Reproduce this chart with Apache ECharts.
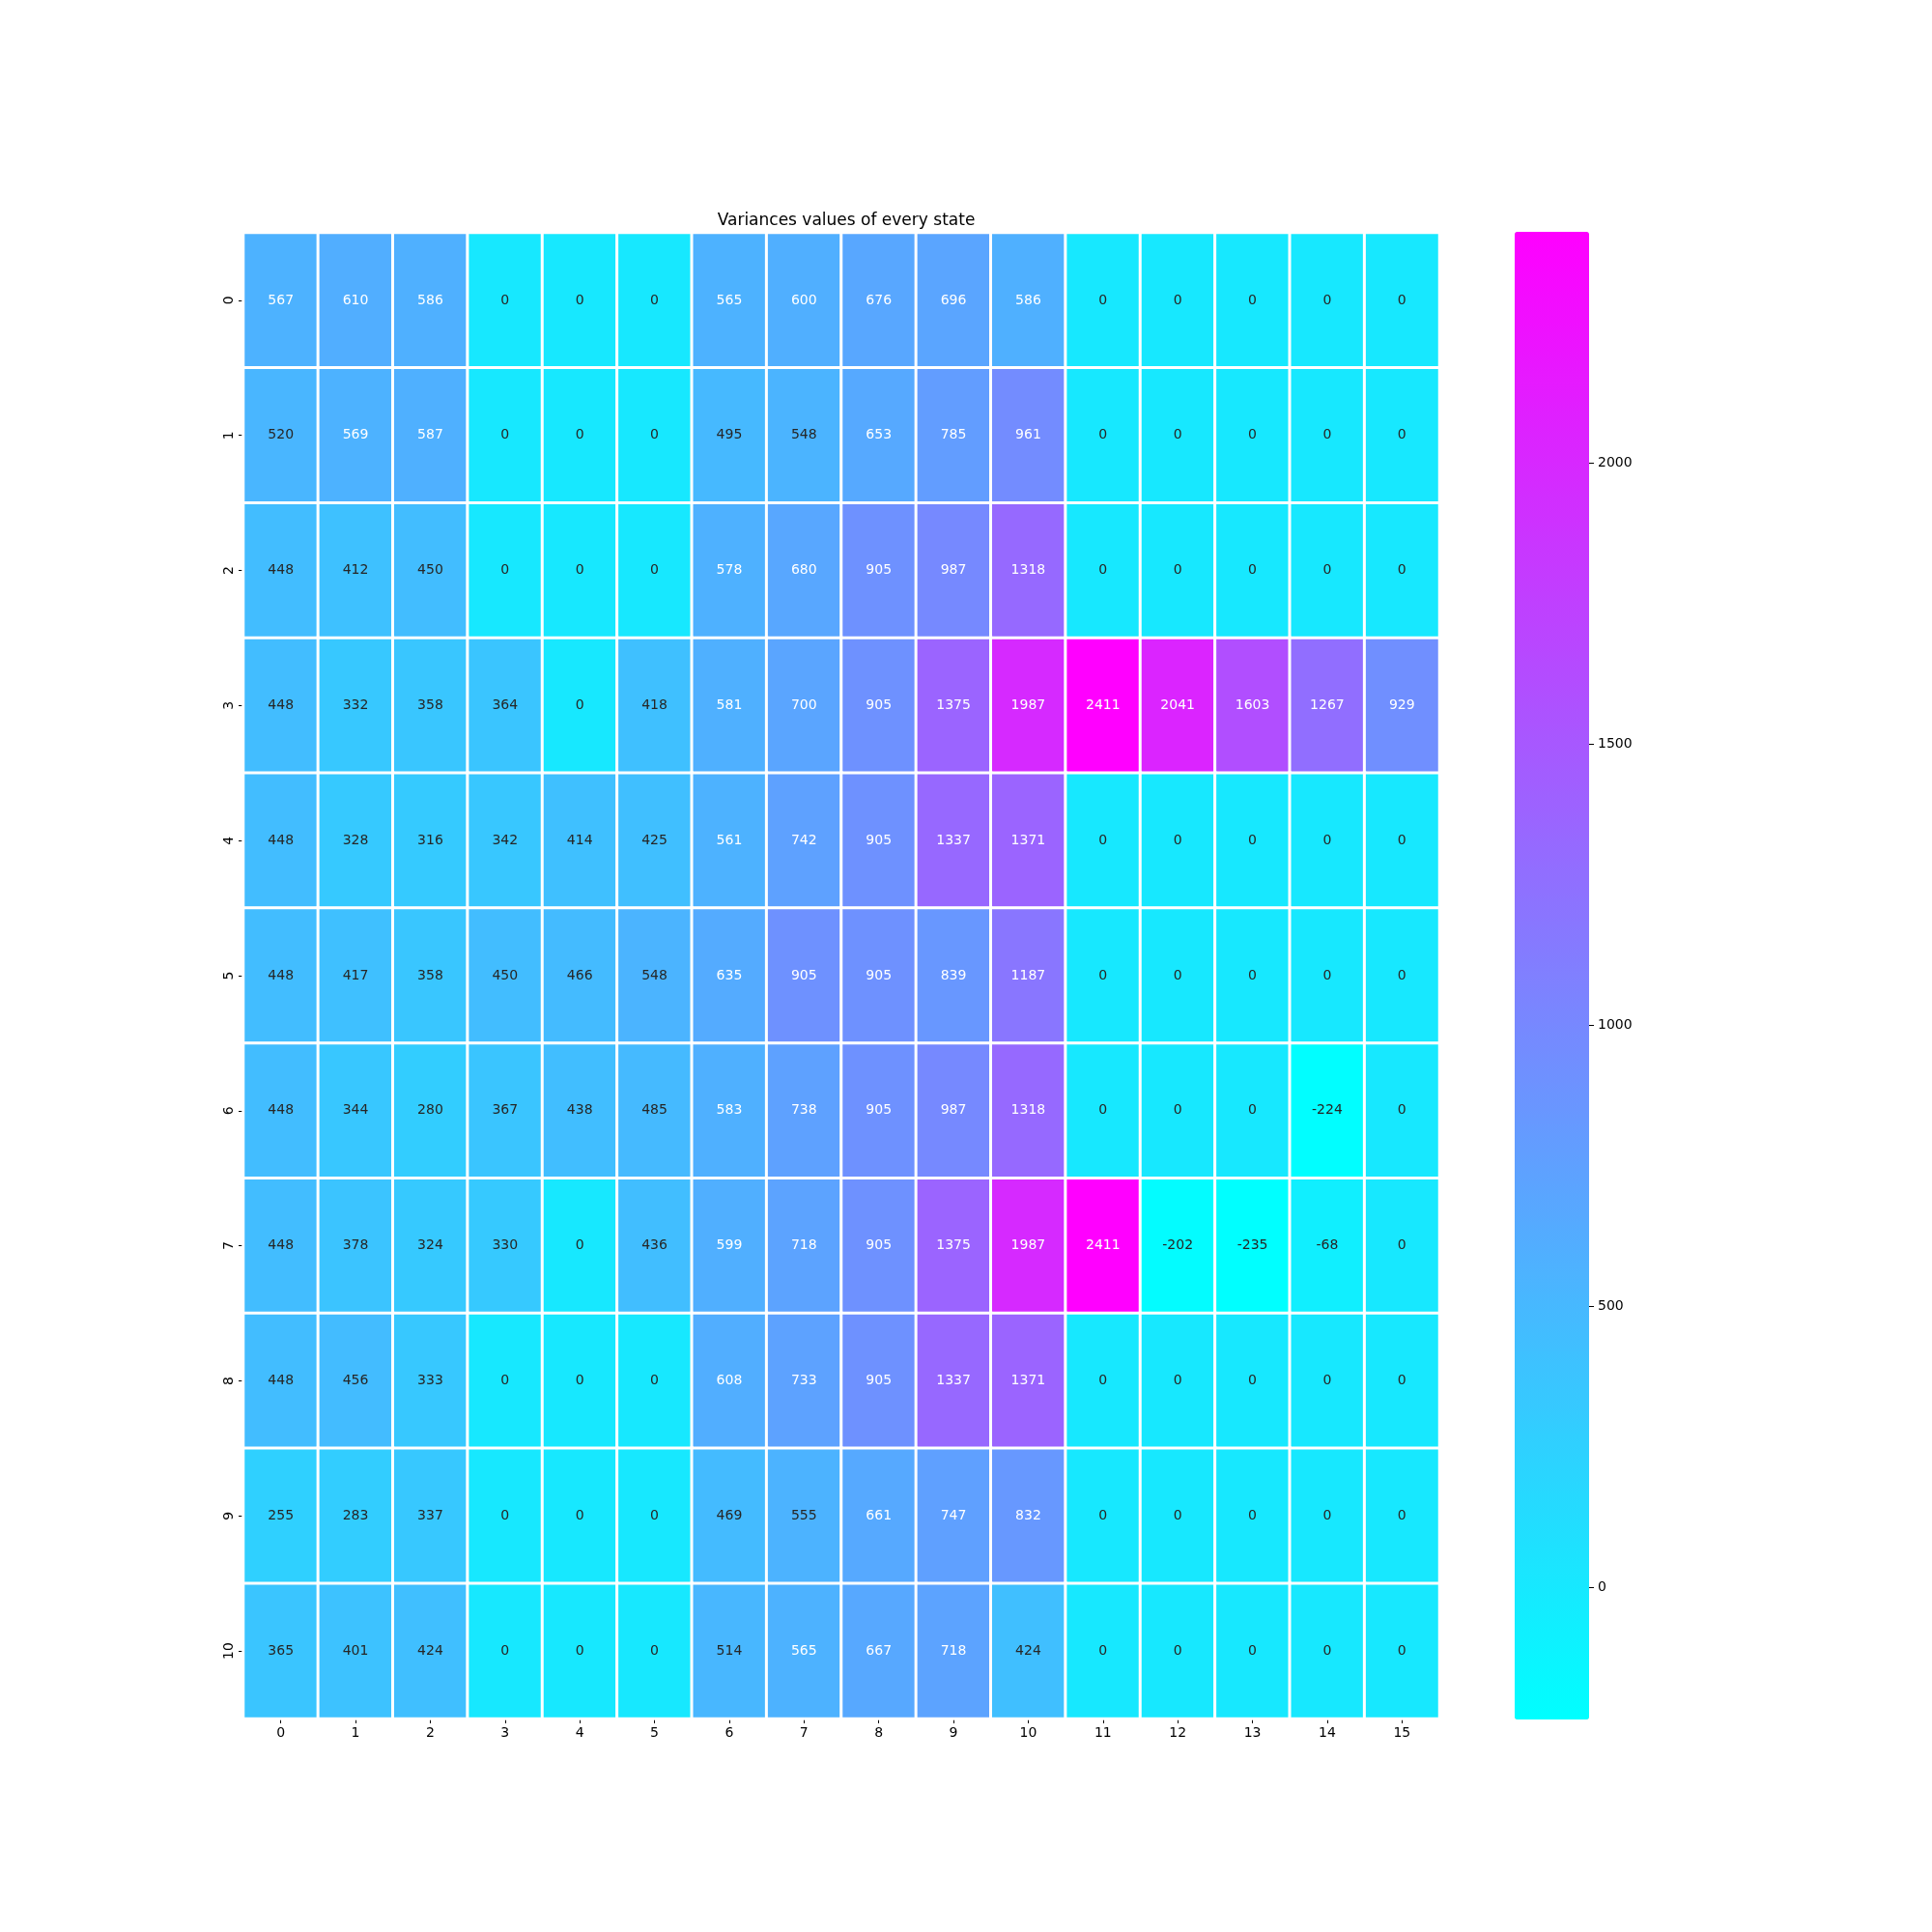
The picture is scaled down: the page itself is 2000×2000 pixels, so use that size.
<!DOCTYPE html>
<html>
<head>
<meta charset="utf-8">
<script src="https://cdn.jsdelivr.net/npm/echarts@6/dist/echarts.min.js"></script>
<style>
  html, body { margin: 0; padding: 0; background: #fff; }
  #chart { width: 2000px; height: 2000px; }
</style>
</head>
<body>
<div id="chart"></div>
<script>
// column / row labels
const cols = ['0','1','2','3','4','5','6','7','8','9','10','11','12','13','14','15']
const rows = ['0','1','2','3','4','5','6','7','8','9','10']

// variance values, one array per state row
const row0  = [567, 610, 586, 0, 0, 0, 565, 600, 676, 696, 586, 0, 0, 0, 0, 0]
const row1  = [520, 569, 587, 0, 0, 0, 495, 548, 653, 785, 961, 0, 0, 0, 0, 0]
const row2  = [448, 412, 450, 0, 0, 0, 578, 680, 905, 987, 1318, 0, 0, 0, 0, 0]
const row3  = [448, 332, 358, 364, 0, 418, 581, 700, 905, 1375, 1987, 2411, 2041, 1603, 1267, 929]
const row4  = [448, 328, 316, 342, 414, 425, 561, 742, 905, 1337, 1371, 0, 0, 0, 0, 0]
const row5  = [448, 417, 358, 450, 466, 548, 635, 905, 905, 839, 1187, 0, 0, 0, 0, 0]
const row6  = [448, 344, 280, 367, 438, 485, 583, 738, 905, 987, 1318, 0, 0, 0, -224, 0]
const row7  = [448, 378, 324, 330, 0, 436, 599, 718, 905, 1375, 1987, 2411, -202, -235, -68, 0]
const row8  = [448, 456, 333, 0, 0, 0, 608, 733, 905, 1337, 1371, 0, 0, 0, 0, 0]
const row9  = [255, 283, 337, 0, 0, 0, 469, 555, 661, 747, 832, 0, 0, 0, 0, 0]
const row10 = [365, 401, 424, 0, 0, 0, 514, 565, 667, 718, 424, 0, 0, 0, 0, 0]
const matrix = [row0, row1, row2, row3, row4, row5, row6, row7, row8, row9, row10]

const colorbarTicks = [0, 500, 1000, 1500, 2000]

const vmin = Math.min(...matrix.flat())
const vmax = Math.max(...matrix.flat())

// seaborn-style annotation colour: dark text on light cells
function textColor(v) {
  const t = (v - vmin) / (vmax - vmin)
  const rgb = [t, 1 - t, 1]
  const lin = rgb.map(c => c <= 0.03928 ? c / 12.92 : Math.pow((c + 0.055) / 1.055, 2.4))
  const lum = 0.2126 * lin[0] + 0.7152 * lin[1] + 0.0722 * lin[2]
  return lum > 0.408 ? '#262626' : '#ffffff'
}

const data = []
matrix.forEach((r, y) => {
  r.forEach((v, x) => {
    data.push({ value: [x, y, v], label: { color: textColor(v) } })
  })
})

const font = 'DejaVu Sans'
const chart = echarts.init(document.getElementById('chart'))

chart.setOption({
  animation: false,
  backgroundColor: '#fff',
  textStyle: { fontFamily: font },
  title: {
    text: 'Variances values of every state',
    left: 871,
    top: 215,
    textAlign: 'center',
    textStyle: { fontFamily: font, fontSize: 17, fontWeight: 'normal', color: '#000' }
  },
  grid: [
    { left: 252, top: 241, width: 1238, height: 1538 },
    // thin strip just right of the colour bar, used for its ticks and labels
    { left: 1645, top: 240, width: 20, height: 1540 }
  ],
  xAxis: [
    {
      type: 'category', data: cols, gridIndex: 0,
      axisLine: { show: false },
      axisTick: { show: true, alignWithLabel: true, length: 5, lineStyle: { color: '#000' } },
      axisLabel: { color: '#000', fontSize: 14, margin: 8, fontFamily: font },
      splitLine: { show: false }
    },
    {
      type: 'value', gridIndex: 1, show: false
    }
  ],
  yAxis: [
    {
      type: 'category', data: rows, gridIndex: 0, inverse: true,
      axisLine: { show: false },
      axisTick: { show: true, alignWithLabel: true, length: 5, lineStyle: { color: '#000' } },
      axisLabel: { color: '#000', fontSize: 14, rotate: 90, margin: 8, fontFamily: font },
      splitLine: { show: false }
    },
    {
      type: 'value', gridIndex: 1, position: 'left', min: vmin, max: vmax,
      axisLine: { show: false },
      axisTick: { show: true, inside: true, length: 5, customValues: colorbarTicks, lineStyle: { color: '#000', width: 1 } },
      axisLabel: {
        show: true, inside: true, color: '#000', fontSize: 14, margin: 9, customValues: colorbarTicks,
        fontFamily: font, formatter: v => String(v)
      },
      splitLine: { show: false }
    }
  ],
  visualMap: {
    type: 'continuous',
    seriesIndex: 0,
    min: vmin,
    max: vmax,
    calculable: false,
    showLabel: false,
    text: ['', ''],
    left: 1568,
    top: 240,
    itemWidth: 77,
    itemHeight: 1540,
    padding: 0,
    inRange: { color: ['#00ffff', '#ff00ff'] }
  },
  series: [
    {
      type: 'heatmap',
      xAxisIndex: 0, yAxisIndex: 0,
      data: data,
      label: { show: true, fontSize: 14, fontFamily: font },
      itemStyle: { borderColor: '#ffffff', borderWidth: 3 },
      emphasis: { disabled: true }
    },
    {
      type: 'scatter', xAxisIndex: 1, yAxisIndex: 1, data: [], silent: true
    }
  ]
})
</script>
</body>
</html>
